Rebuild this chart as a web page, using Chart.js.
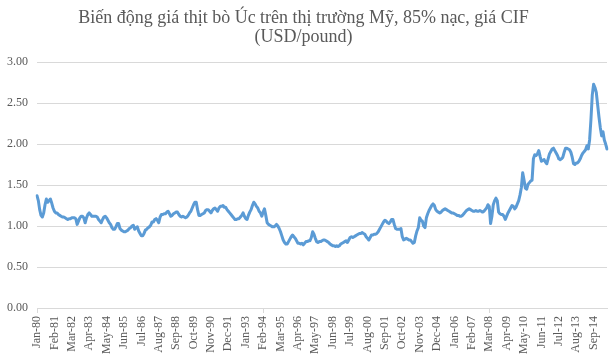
<!DOCTYPE html>
<html>
<head>
<meta charset="utf-8">
<script src="https://cdn.jsdelivr.net/npm/chart.js@4"></script>
<style>
  body { margin: 0; background: #fff; }
  #wrap { width: 613px; height: 360px; position: relative; }
</style>
</head>
<body>
<div id="wrap"><canvas id="myChart"></canvas></div>
<script>
// months Jan-80 .. Jul-15
var monthNames = ["Jan","Feb","Mar","Apr","May","Jun","Jul","Aug","Sep","Oct","Nov","Dec"];
var startYear = 1980;
var labelEvery = 13;
var yTicks = [0, 0.5, 1, 1.5, 2, 2.5, 3];

// USD/pound, one row per year
var prices = [
  1.37, 1.31, 1.20, 1.13, 1.11, 1.16, 1.26, 1.33, 1.29, 1.31, 1.33, 1.28,
  1.22, 1.18, 1.16, 1.16, 1.14, 1.13, 1.12, 1.11, 1.11, 1.10, 1.09, 1.08,
  1.09, 1.09, 1.10, 1.10, 1.10, 1.09, 1.02, 1.06, 1.10, 1.12, 1.12, 1.10,
  1.04, 1.10, 1.14, 1.16, 1.14, 1.12, 1.12, 1.12, 1.12, 1.11, 1.08, 1.06,
  1.04, 1.08, 1.11, 1.12, 1.10, 1.07, 1.04, 1.02, 0.98, 0.96, 0.96, 0.99,
  1.03, 1.03, 0.97, 0.95, 0.94, 0.93, 0.93, 0.94, 0.95, 0.97, 0.98, 1.00,
  1.01, 0.96, 0.98, 0.99, 0.94, 0.91, 0.88, 0.88, 0.91, 0.95, 0.96, 0.98,
  0.99, 1.01, 1.05, 1.05, 1.08, 1.09, 1.07, 1.04, 1.11, 1.14, 1.14, 1.15,
  1.15, 1.17, 1.18, 1.15, 1.12, 1.13, 1.15, 1.16, 1.17, 1.17, 1.14, 1.12,
  1.11, 1.12, 1.11, 1.10, 1.11, 1.13, 1.16, 1.18, 1.22, 1.26, 1.29, 1.29,
  1.20, 1.13, 1.13, 1.14, 1.15, 1.16, 1.19, 1.20, 1.20, 1.18, 1.16, 1.19,
  1.21, 1.22, 1.20, 1.18, 1.22, 1.24, 1.24, 1.25, 1.23, 1.23, 1.20, 1.18,
  1.16, 1.14, 1.12, 1.10, 1.08, 1.08, 1.09, 1.09, 1.11, 1.13, 1.16, 1.12,
  1.09, 1.08, 1.13, 1.17, 1.20, 1.25, 1.29, 1.27, 1.24, 1.22, 1.18, 1.16,
  1.12, 1.17, 1.21, 1.13, 1.04, 1.02, 1.01, 1.00, 0.99, 0.99, 1.00, 1.02,
  1.00, 0.97, 0.93, 0.88, 0.83, 0.80, 0.78, 0.78, 0.81, 0.84, 0.87, 0.89,
  0.87, 0.85, 0.82, 0.79, 0.79, 0.78, 0.79, 0.77, 0.79, 0.81, 0.81, 0.82,
  0.82, 0.86, 0.93, 0.90, 0.85, 0.81, 0.80, 0.81, 0.81, 0.82, 0.83, 0.83,
  0.82, 0.81, 0.80, 0.78, 0.77, 0.76, 0.76, 0.75, 0.76, 0.75, 0.76, 0.78,
  0.79, 0.80, 0.81, 0.82, 0.80, 0.83, 0.86, 0.87, 0.86, 0.87, 0.88, 0.89,
  0.90, 0.91, 0.91, 0.92, 0.91, 0.90, 0.87, 0.85, 0.83, 0.86, 0.89, 0.89,
  0.90, 0.90, 0.91, 0.93, 0.96, 0.99, 1.02, 1.05, 1.07, 1.06, 1.04, 1.03,
  1.05, 1.08, 1.08, 1.02, 0.97, 0.96, 0.96, 0.96, 0.97, 0.87, 0.83, 0.84,
  0.85, 0.84, 0.83, 0.83, 0.81, 0.79, 0.80, 0.88, 0.94, 0.98, 1.10, 1.07,
  1.06, 1.00, 0.98, 1.10, 1.15, 1.19, 1.22, 1.25, 1.27, 1.25, 1.20, 1.18,
  1.17, 1.16, 1.17, 1.19, 1.20, 1.21, 1.20, 1.19, 1.18, 1.17, 1.16, 1.16,
  1.15, 1.14, 1.13, 1.13, 1.12, 1.12, 1.13, 1.15, 1.17, 1.19, 1.20, 1.21,
  1.20, 1.19, 1.18, 1.18, 1.19, 1.18, 1.18, 1.19, 1.18, 1.17, 1.18, 1.20,
  1.22, 1.26, 1.24, 1.03, 1.12, 1.26, 1.31, 1.34, 1.31, 1.17, 1.15, 1.14,
  1.14, 1.12, 1.08, 1.12, 1.16, 1.19, 1.22, 1.25, 1.24, 1.21, 1.23, 1.27,
  1.31, 1.38, 1.47, 1.65, 1.56, 1.46, 1.45, 1.51, 1.53, 1.55, 1.56, 1.82,
  1.87, 1.86, 1.88, 1.92, 1.85, 1.79, 1.80, 1.81, 1.78, 1.76, 1.82, 1.88,
  1.91, 1.94, 1.95, 1.92, 1.89, 1.86, 1.82, 1.81, 1.82, 1.84, 1.90, 1.95,
  1.95, 1.94, 1.93, 1.90, 1.84, 1.76, 1.75, 1.77, 1.77, 1.79, 1.82, 1.86,
  1.89, 1.91, 1.93, 1.98, 1.94, 2.05, 2.30, 2.60, 2.73, 2.69, 2.63, 2.48,
  2.33, 2.20, 2.10, 2.15, 2.05, 2.00, 1.94
];

var months = [];
for (var i = 0; i < prices.length; i++) {
  var yy = (startYear + Math.floor(i / 12)) % 100;
  months.push(monthNames[i % 12] + "-" + (yy < 10 ? "0" + yy : yy));
}

var txt = "#595959";
var gridCol = "#d9d9d9";
Chart.defaults.font.family = "'Liberation Serif', 'Times New Roman', serif";
Chart.defaults.color = txt;

new Chart("myChart", {
  type: "line",
  data: {
    labels: months,
    datasets: [{
      data: prices,
      borderColor: "#5b9bd5",
      borderWidth: 3,
      pointRadius: 0,
      tension: 0,
      fill: false,
      borderJoinStyle: "round",
      borderCapStyle: "round"
    }]
  },
  options: {
    responsive: true,
    maintainAspectRatio: false,
    animation: false,
    layout: { padding: { left: 0, right: 6, top: 0, bottom: 0 } },
    plugins: {
      legend: { display: false },
      tooltip: { enabled: false },
      title: {
        display: true,
        text: ["Biến động giá thịt bò Úc trên thị trường Mỹ, 85% nạc, giá CIF", "(USD/pound)"],
        color: txt,
        font: { size: 18, weight: "normal", lineHeight: 1.1 },
        padding: { top: 8, bottom: 14.5 }
      }
    },
    scales: {
      x: {
        offset: false,
        grid: {
          drawOnChartArea: false,
          drawTicks: true,
          tickLength: 5,
          color: function (c) { return c.index % labelEvery === 0 ? gridCol : "rgba(0,0,0,0)"; }
        },
        border: { display: true, color: gridCol },
        ticks: {
          autoSkip: false,
          minRotation: 90,
          maxRotation: 90,
          padding: 3,
          font: { size: 12 },
          callback: function (v, i) { return i % labelEvery === 0 ? months[i] : null; }
        },
        afterFit: function (s) { s.height = 52; }
      },
      y: {
        min: 0,
        max: 3,
        afterBuildTicks: function (s) { s.ticks = yTicks.map(function (v) { return { value: v }; }); },
        grid: { color: gridCol, drawTicks: false },
        border: { display: false },
        ticks: {
          padding: 9,
          font: { size: 12 },
          callback: function (v) { return Number(v).toFixed(2); }
        },
        afterFit: function (s) { s.width = 37; }
      }
    }
  }
});
</script>
</body>
</html>
